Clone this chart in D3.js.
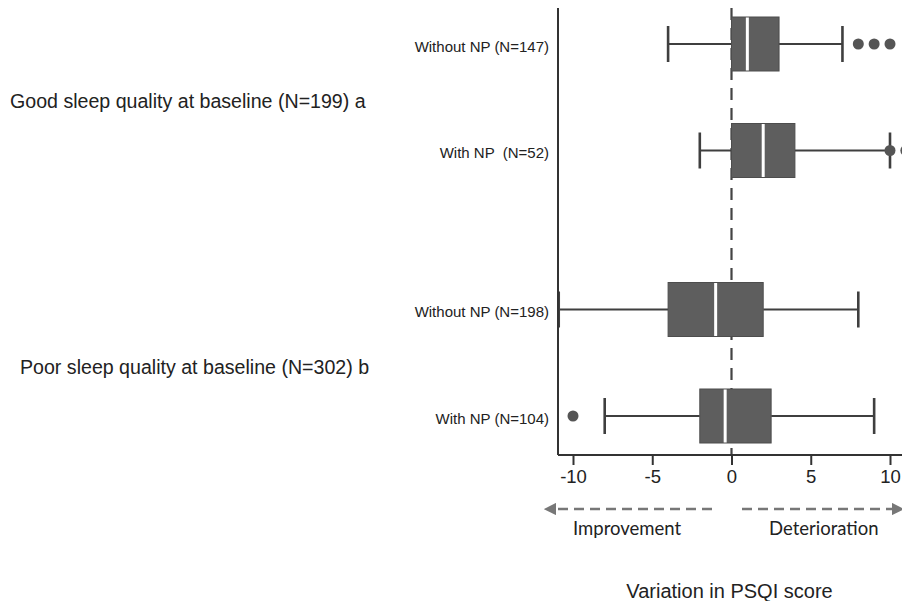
<!DOCTYPE html>
<html><head><meta charset="utf-8">
<script src="https://cdn.jsdelivr.net/npm/d3@7"></script>
<style>body{margin:0;background:#fff}svg{display:block}</style>
</head><body>
<script>
const groups = ["Good sleep quality at baseline (N=199) a", "Poor sleep quality at baseline (N=302) b"];
const categories = ["Without NP (N=147)", "With NP  (N=52)", "Without NP (N=198)", "With NP (N=104)"];
const categoryGroup = [0, 0, 1, 1];
const whiskerLow = [-4, -2, -10.9, -8];
const q1 = [0, 0, -4, -2];
const median = [1, 2, -1, -0.4];
const q3 = [3, 4, 2, 2.5];
const whiskerHigh = [7, 10, 8, 9];
const outliers = [[8, 9, 10], [10, 11], [], [-10]];
const xTicks = [-10, -5, 0, 5, 10];

const W = 902, H = 601;
const svg = d3.select("body").append("svg").attr("width", W).attr("height", H);
const x = d3.scaleLinear().domain([-10, 10]).range([573, 890]);
const yGroup = d3.scalePoint().domain(groups).range([97.5, 363]);
const yInner = d3.scalePoint().domain([0, 1]).range([-53.5, 53]);
const rows = categories.map((c, i) => {
  const g = groups[categoryGroup[i]];
  const idx = categories.filter((_, j) => categoryGroup[j] === categoryGroup[i]).indexOf(c);
  return {c, i, y: yGroup(g) + yInner(idx)};
});

const plotLeft = 558, plotRight = 902, plotTop = 8, plotBottom = 455;
svg.append("clipPath").attr("id", "clip").append("rect")
  .attr("x", plotLeft - 2).attr("y", 0).attr("width", plotRight - plotLeft + 2).attr("height", plotBottom);

// dashed zero line
svg.append("line").attr("x1", x(0)).attr("x2", x(0)).attr("y1", plotTop).attr("y2", plotBottom)
  .attr("stroke", "#444").attr("stroke-width", 2.2).attr("stroke-dasharray", "12,8");

const plot = svg.append("g").attr("clip-path", "url(#clip)");
const boxH = 54, capH = 36;
const dark = "#3f3f3f", fill = "#5e5e5e";
rows.forEach(r => {
  const g = plot.append("g");
  const i = r.i;
  g.append("line").attr("x1", x(whiskerLow[i])).attr("x2", x(q1[i])).attr("y1", r.y).attr("y2", r.y)
    .attr("stroke", dark).attr("stroke-width", 2);
  g.append("line").attr("x1", x(q3[i])).attr("x2", x(whiskerHigh[i])).attr("y1", r.y).attr("y2", r.y)
    .attr("stroke", dark).attr("stroke-width", 2);
  [whiskerLow[i], whiskerHigh[i]].forEach(v => {
    g.append("line").attr("x1", x(v)).attr("x2", x(v)).attr("y1", r.y - capH / 2).attr("y2", r.y + capH / 2)
      .attr("stroke", dark).attr("stroke-width", 2.6);
  });
  g.append("rect").attr("x", x(q1[i])).attr("y", r.y - boxH / 2).attr("width", x(q3[i]) - x(q1[i])).attr("height", boxH)
    .attr("fill", fill).attr("stroke", "#4d4d4d").attr("stroke-width", 1);
  g.append("line").attr("x1", x(median[i])).attr("x2", x(median[i])).attr("y1", r.y - boxH / 2 + 0.5).attr("y2", r.y + boxH / 2 - 0.5)
    .attr("stroke", "#fff").attr("stroke-width", 3);
  outliers[i].forEach(v => {
    g.append("circle").attr("cx", x(v)).attr("cy", r.y).attr("r", 5.5).attr("fill", "#555");
  });
});

// axes lines
svg.append("line").attr("x1", plotLeft).attr("x2", plotLeft).attr("y1", plotTop).attr("y2", plotBottom)
  .attr("stroke", "#333").attr("stroke-width", 2);
svg.append("line").attr("x1", plotLeft).attr("x2", plotRight).attr("y1", plotBottom).attr("y2", plotBottom)
  .attr("stroke", "#333").attr("stroke-width", 2);

const xAxis = d3.axisBottom(x).tickValues(xTicks).tickSize(10).tickPadding(5).tickFormat(d => String(d));
const ax = svg.append("g").attr("transform", `translate(0,${plotBottom})`).call(xAxis);
ax.select(".domain").remove();
ax.selectAll(".tick line").attr("stroke", "#333").attr("stroke-width", 2);
ax.selectAll(".tick text").attr("font-family", "Liberation Sans, Arial, sans-serif").attr("font-size", 18.5).attr("fill", "#222");

// category labels
svg.append("g").selectAll("text").data(rows).join("text")
  .attr("x", 549).attr("y", d => d.y + 7.5).attr("text-anchor", "end")
  .attr("font-family", "Liberation Sans, Arial, sans-serif").attr("font-size", 15).attr("fill", "#222")
  .style("white-space", "pre").text(d => d.c);

// group labels
svg.append("g").selectAll("text").data(groups).join("text")
  .attr("x", (d, i) => i === 0 ? 10 : 20).attr("y", d => yGroup(d) + 10.5)
  .attr("font-family", "Liberation Sans, Arial, sans-serif").attr("font-size", 19.6).attr("fill", "#222")
  .text(d => d);

// arrows
const defs = svg.append("defs");
defs.append("marker").attr("id", "ah").attr("viewBox", "0 0 10 10").attr("refX", 5).attr("refY", 5)
  .attr("markerWidth", 5).attr("markerHeight", 5).attr("orient", "auto-start-reverse")
  .append("path").attr("d", "M0,0 L10,5 L0,10 z").attr("fill", "#777");
const arrowY = 509;
svg.append("line").attr("x1", 712).attr("x2", 550).attr("y1", arrowY).attr("y2", arrowY)
  .attr("stroke", "#777").attr("stroke-width", 2.5).attr("stroke-dasharray", "10,6").attr("marker-end", "url(#ah)");
svg.append("line").attr("x1", 742).attr("x2", 898).attr("y1", arrowY).attr("y2", arrowY)
  .attr("stroke", "#777").attr("stroke-width", 2.5).attr("stroke-dasharray", "10,6").attr("marker-end", "url(#ah)");
svg.append("text").attr("x", 573).attr("y", 535).attr("font-family", "Lato, 'Open Sans', sans-serif")
  .attr("font-size", 18.5).attr("fill", "#222").text("Improvement");
svg.append("text").attr("x", 769).attr("y", 535).attr("font-family", "Lato, 'Open Sans', sans-serif")
  .attr("font-size", 18.5).attr("fill", "#222").text("Deterioration");

svg.append("text").attr("x", 729.5).attr("y", 598).attr("text-anchor", "middle")
  .attr("font-family", "Liberation Sans, Arial, sans-serif").attr("font-size", 20).attr("fill", "#222")
  .text("Variation in PSQI score");
</script>
</body></html>
